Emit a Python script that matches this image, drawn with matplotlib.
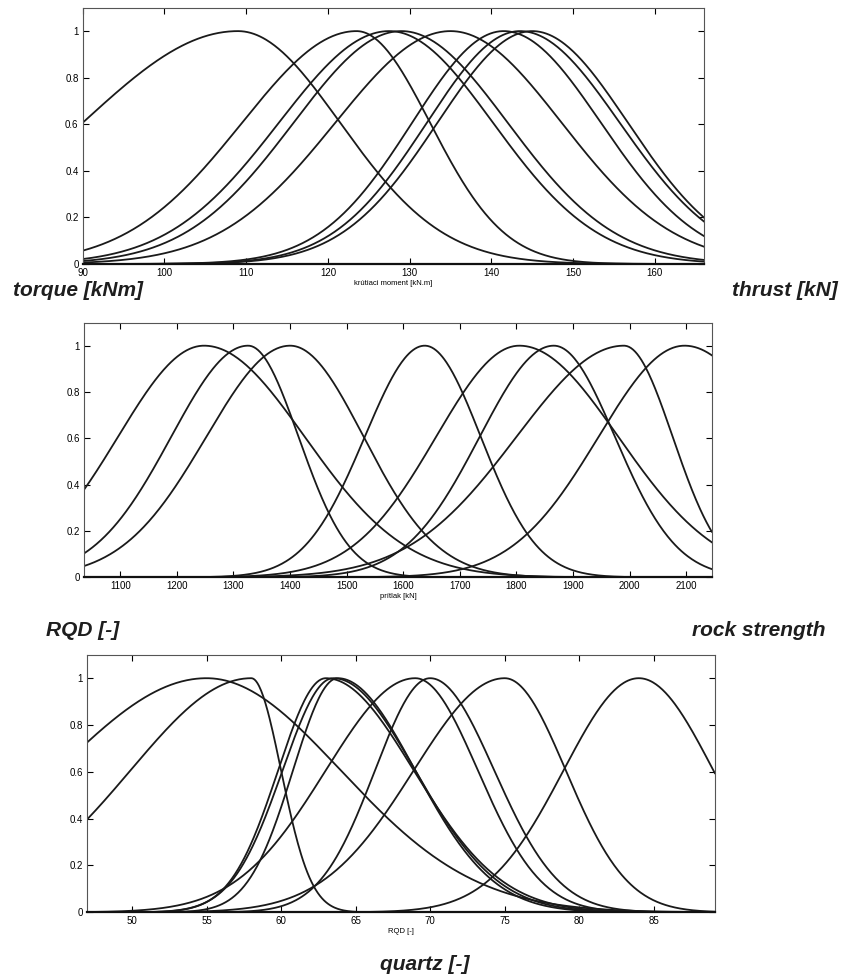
import numpy as np
import matplotlib.pyplot as plt

plt.rcParams['font.family'] = ['Liberation Sans Narrow', 'Liberation Sans', 'DejaVu Sans']

# torque panel: centre, left width, right width of each membership curve
torque_centers = [109, 123.5, 127.5, 129, 135, 141.5, 143.5, 145]
torque_left = [19, 14, 13.5, 13.2, 14.1, 11.2, 11.4, 11.6]
torque_right = [12.5, 9, 12.7, 13, 13.6, 11.9, 12.2, 11.7]
torque_xlim = (90, 166)
torque_ticks = [90, 100, 110, 120, 130, 140, 150, 160]

# thrust panel
thrust_centers = [1248, 1326, 1400, 1638, 1805, 1866, 1990, 2097]
thrust_left = [152, 136, 148, 106, 147, 131, 190, 152]
thrust_right = [178, 89, 130, 99, 175, 108, 86, 165]
thrust_xlim = (1036, 2145)
thrust_ticks = list(range(1100, 2101, 100))

# RQD panel
rqd_centers = [55, 58, 63, 63.5, 63.8, 69, 70, 75, 84]
rqd_left = [10, 8.1, 3.2, 3.4, 3.0, 6.0, 3.7, 6.1, 5.05]
rqd_right = [9, 2.0, 5.9, 5.5, 5.2, 4.2, 4.3, 4.1, 5.0]
rqd_xlim = (47, 89.1)
rqd_ticks = [50, 55, 60, 65, 70, 75, 80, 85]

yticks = [0, 0.2, 0.4, 0.6, 0.8, 1]
ytick_labels = ['0', '0.2', '0.4', '0.6', '0.8', '1']


def mf(x, c, sl, sr):
    s = np.where(x < c, sl, sr)
    return np.exp(-0.5 * ((x - c) / s) ** 2)


fig = plt.figure(figsize=(8.41, 9.77), dpi=100)

panels = [
    ([0.0983, 0.7298, 0.7387, 0.2622], torque_centers, torque_left, torque_right,
     torque_xlim, torque_ticks, 'krútiaci moment [kN.m]'),
    ([0.0999, 0.4091, 0.7464, 0.2608], thrust_centers, thrust_left, thrust_right,
     thrust_xlim, thrust_ticks, 'prítlak [kN]'),
    ([0.1038, 0.0662, 0.7462, 0.2636], rqd_centers, rqd_left, rqd_right,
     rqd_xlim, rqd_ticks, 'RQD [-]'),
]

for rect, cs, sls, srs, xlim, xt, xlabel in panels:
    ax = fig.add_axes(rect)
    x = np.linspace(xlim[0], xlim[1], 600)
    for c, sl, sr in zip(cs, sls, srs):
        ax.plot(x, mf(x, c, sl, sr), color='#1a1a1a', lw=1.3)
    ax.set_xlim(xlim)
    ax.set_ylim(0, 1.1)
    ax.set_xticks(xt)
    ax.set_xticklabels([str(t) for t in xt], fontsize=7)
    ax.set_yticks(yticks)
    ax.set_yticklabels(ytick_labels, fontsize=7)
    ax.set_xlabel(xlabel, fontsize=5.5, labelpad=1)
    ax.tick_params(direction='in', length=4, width=0.8, top=True, right=True, pad=3)
    for sp in ax.spines.values():
        sp.set_color('#555555')
        sp.set_linewidth(0.8)
    ax.spines['bottom'].set_color('#111111')
    ax.spines['bottom'].set_linewidth(1.6)

big = dict(fontsize=15, fontweight='bold', fontstyle='italic',
           family=['Liberation Sans', 'DejaVu Sans'], color='#1e1e1e', va='center')
fig.text(13 / 841, 1 - 291 / 977, 'torque [kNm]', ha='left', **big)
fig.text(838 / 841, 1 - 291 / 977, 'thrust [kN]', ha='right', **big)
fig.text(46 / 841, 1 - 631 / 977, 'RQD [-]', ha='left', **big)
fig.text(826 / 841, 1 - 631 / 977, 'rock strength', ha='right', **big)
fig.text(425 / 841, 1 - 964 / 977, 'quartz [-]', ha='center', **big)

fig.savefig('out.png', dpi=100)
